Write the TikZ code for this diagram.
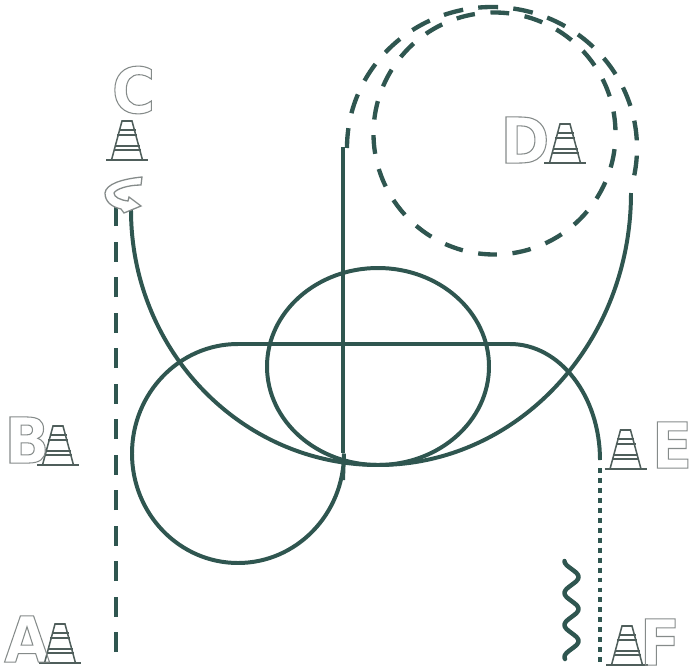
\documentclass[tikz,border=0pt]{standalone}
\usepackage{fontspec}
\newfontfamily\gatefont[FakeStretch=0.93]{DejaVu Sans Bold}
\usepackage{xcolor}
\definecolor{routefg}{HTML}{2F5650}
\definecolor{outlinefg}{HTML}{858B8A}
\definecolor{conefg}{HTML}{4F5E5B}
\newcommand{\outlined}[1]{\special{pdf:code q 1 Tr 0.9 w}#1\special{pdf:code Q}}
\tikzset{
  route/.style={line width=3.4pt, color=routefg},
  routedash/.style={route, line width=3.7pt, dash pattern=on 17pt off 13pt},
  routedot/.style={route, line width=4.2pt, dash pattern=on 4.2pt off 4.3pt},
  gateletter/.style={font=\gatefont\fontsize{54}{54}\selectfont, color=outlinefg, inner sep=0pt},
  pics/cone/.style={code={
    \draw[conefg, line width=1.3pt, fill=white] (-15.5,0) -- (-5,-39) -- (5,-39) -- (15.5,0);
    \draw[conefg, line width=2pt] (-21,0) -- (21,0);
    \draw[conefg, line width=1.1pt] (-8.5,-30) -- (8.5,-30);
    \draw[conefg, line width=1.1pt] (-10,-25) -- (10,-25);
    \draw[conefg, line width=1.1pt] (-12.5,-14) -- (12.5,-14);
    \draw[conefg, line width=1.1pt] (-13.5,-10) -- (13.5,-10);
  }}
}
\begin{document}
\begin{tikzpicture}[x=0.3mm, y=-0.3mm]
  \useasboundingbox (0,0) rectangle (691,667);

  % --- centre ring ---
  \draw[route] (378,366.5) circle [x radius=111, y radius=98.5];

  % --- flat top, left loop and long vertical ---
  \draw[route] (600,460) arc [start angle=0, end angle=-90, x radius=90, y radius=116]
    -- (238,344) arc [start angle=-90, end angle=-360, x radius=106, y radius=109.5]
    -- (343,480);
  \draw[route] (343,453) -- (343,147);

  % --- long sweep from the far right round to C ---
  \draw[route] (631,193) arc [start angle=0, end angle=90, x radius=253, y radius=272]
    arc [start angle=90, end angle=180, x radius=247, y radius=255];

  % --- dashed arc over the top and dashed circle round D ---
  \draw[routedash] (347,148) arc [start angle=180, end angle=373, x radius=145, y radius=141];
  \draw[routedash, dash pattern=on 16pt off 13.37pt, dash phase=16pt]
    (494.5,133.5) circle [radius=121];

  % --- A to C and E to F ---
  \draw[routedash, dash pattern=on 17pt off 13.3pt] (116,652) -- (116,207);
  \draw[routedot] (600,468) -- (600,667);

  % --- wavy line ---
  \draw[route, line width=3.8pt, domain=0:98, samples=80, smooth, line cap=round]
    plot ({571.5-7*cos(\x*11.25)}, {561+\x});

  % --- turning arrow at C ---
  \draw[outlinefg, line width=1.1pt, fill=white]
    (142,177) .. controls (122,179) and (106,184) .. (105,193)
    .. controls (105,202) and (112,207) .. (121,209) -- (124,213) -- (141,206) -- (129,197) -- (128,201)
    .. controls (120,200) and (114,197) .. (114,193)
    .. controls (116,189) and (128,185) .. (141,185) -- cycle;

  % --- cones ---
  \pic at (127,160) {cone};
  \pic at (58,465) {cone};
  \pic at (60,663) {cone};
  \pic at (625.5,469) {cone};
  \pic at (565,163) {cone};
  \pic at (627,665) {cone};

  % --- letters ---
  \node[gateletter] (lc) at (133.5,90) {\outlined{C}};
  \node[gateletter] (lb) at (27,440) {\outlined{B}};
  \node[gateletter] (la) at (27,639) {\outlined{A}};
  \node[gateletter] (ld) at (525,140) {\outlined{D}};
  \node[gateletter] (le) at (672,445) {\outlined{E}};
  \node[gateletter] (lf) at (660,642) {\outlined{F}};
\end{tikzpicture}
\end{document}
